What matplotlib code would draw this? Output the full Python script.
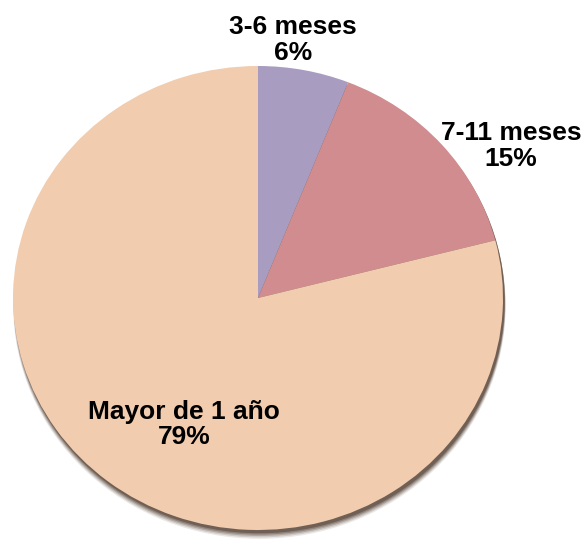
import matplotlib.pyplot as plt
from matplotlib.patches import Ellipse

categories = ["3-6 meses", "7-11 meses", "Mayor de 1 año"]
values = [6, 15, 79]
colors = ["#A99CC1", "#D08C8E", "#F1CCAF"]

plt.rcParams['font.family'] = ['Liberation Sans', 'DejaVu Sans']

fig = plt.figure(figsize=(5.84, 5.46), dpi=100)
ax = fig.add_axes([0, 0, 1, 1])

# soft shadow below the pie
for i, a in enumerate([0.12, 0.18, 0.25, 0.35, 0.55]):
    off = 0.034 - i * 0.005
    ax.add_patch(Ellipse((0.006, -off), 2.0 + 0.010 - i * 0.002, 2.0 + 0.008 - i * 0.002,
                         color="#554235", alpha=a, lw=0, zorder=1))

wedges, _ = ax.pie(values, colors=colors, startangle=90, counterclock=False,
                   radius=1.0, center=(0, 0),
                   wedgeprops=dict(linewidth=0))
for w in wedges:
    w.set_zorder(2)

label_pos = [(0.143, 1.112), (1.033, 0.655), (-0.302, -0.545)]
for name, v, (x, y) in zip(categories, values, label_pos):
    ax.text(x, y, f"{name}\n{v}%", ha="center", va="center", fontsize=19,
            fontweight="bold", color="black", linespacing=1.08, zorder=5)

ax.set_aspect("auto")
ax.set_xlim(-258 / 245, (584 - 258) / 245)
ax.set_ylim(-(546 - 298) / 232, 298 / 232)
ax.axis("off")

fig.savefig("out.png", dpi=100)
